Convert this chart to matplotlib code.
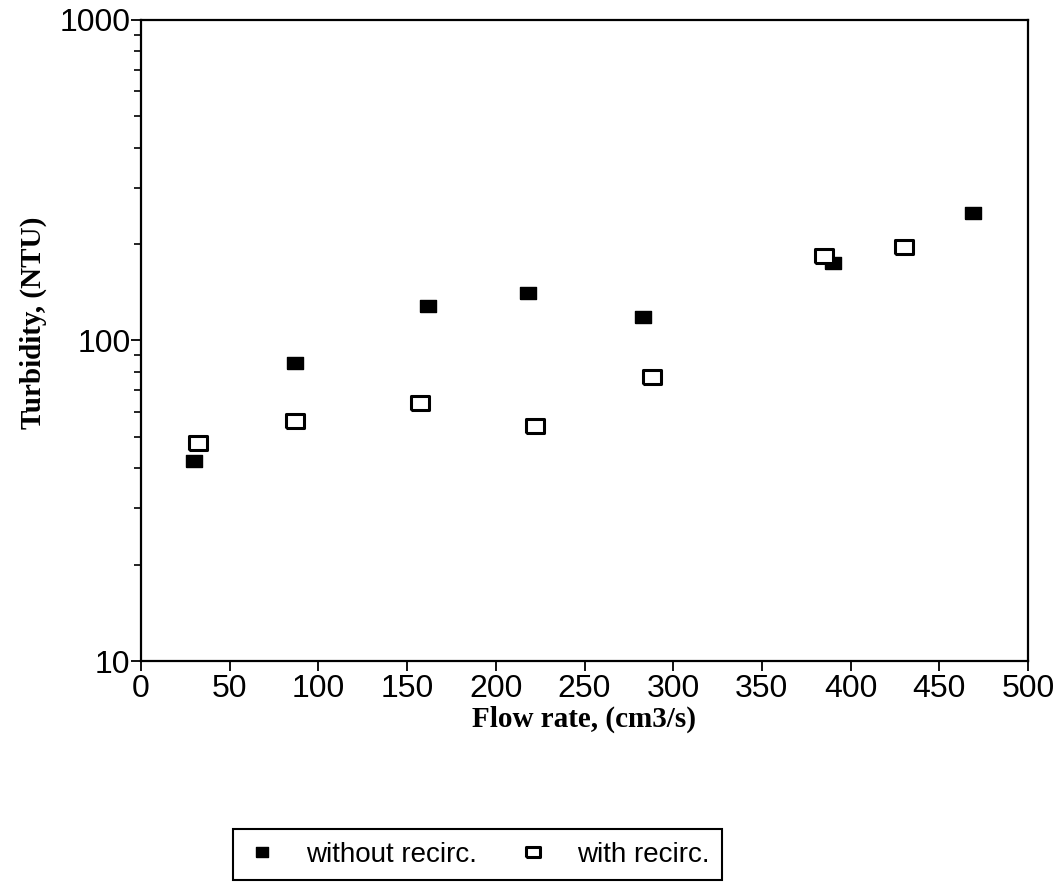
import matplotlib
matplotlib.use("Agg")
import matplotlib.pyplot as plt
from matplotlib.ticker import FixedLocator, LogLocator, NullFormatter, FixedFormatter

# Data
x_without = [30, 87, 162, 218, 283, 390, 469]
y_without = [42, 85, 128, 141, 118, 175, 250]
x_with = [32, 87, 157, 222, 288, 385, 430]
y_with = [48, 56, 64, 54, 77, 183, 196]
x_ticks = [0, 50, 100, 150, 200, 250, 300, 350, 400, 450, 500]
y_ticks = [10, 100, 1000]
y_ticklabels = ["10", "100", "1000"]
label_without = "without recirc."
label_with = "with recirc."
xlabel = "Flow rate, (cm3/s)"
ylabel = "Turbidity, (NTU)"

W, H = 1063, 896
fig = plt.figure(figsize=(W / 100, H / 100), dpi=100)
ax = fig.add_axes([141 / W, 1 - 661 / H, (1028 - 141) / W, (661 - 20) / H])

rect = [(-1.3, -1), (1.3, -1), (1.3, 1), (-1.3, 1), (-1.3, -1)]
ax.plot(x_without, y_without, linestyle='none', marker=rect, markersize=12,
        color='black', markerfacecolor='black', markeredgecolor='black',
        label=label_without)
ax.plot(x_with, y_with, linestyle='none', marker=rect, markersize=12.5,
        markerfacecolor='white', markeredgecolor='black', markeredgewidth=2.2,
        label=label_with)

ax.set_yscale('log')
ax.set_xlim(0, 500)
ax.set_ylim(10, 1000)
ax.xaxis.set_major_locator(FixedLocator(x_ticks))
ax.yaxis.set_major_locator(FixedLocator(y_ticks))
ax.yaxis.set_major_formatter(FixedFormatter(y_ticklabels))
ax.yaxis.set_minor_locator(LogLocator(base=10, subs=range(2, 10)))
ax.yaxis.set_minor_formatter(NullFormatter())

for lab in ax.get_xticklabels() + ax.get_yticklabels():
    lab.set_fontfamily('Liberation Sans')
    lab.set_fontsize(23)
ax.tick_params(axis='x', which='major', direction='out', length=7, width=1.3, pad=2.5)
ax.tick_params(axis='y', which='major', direction='out', length=7, width=1.3, pad=0.5)
ax.tick_params(axis='y', which='minor', direction='out', length=5, width=1.2)
for s in ax.spines.values():
    s.set_linewidth(1.6)

ax.set_xlabel(xlabel, fontfamily='Liberation Serif', fontweight='bold', fontsize=21, labelpad=1)
ax.set_ylabel(ylabel, fontfamily='Liberation Serif', fontweight='bold', fontsize=21)
ax.yaxis.set_label_coords(-0.106, 0.528)

leg = fig.legend(loc='center', bbox_to_anchor=(477.5 / W, 1 - 854.5 / H), ncol=2,
                 frameon=True, fancybox=False, edgecolor='black', framealpha=1,
                 prop={'family': 'Liberation Sans', 'size': 20},
                 markerscale=0.75, handlelength=1.2, handletextpad=1.0,
                 columnspacing=1.4, borderpad=0.45)
leg.get_frame().set_linewidth(1.5)

fig.savefig("out.png", dpi=100)
